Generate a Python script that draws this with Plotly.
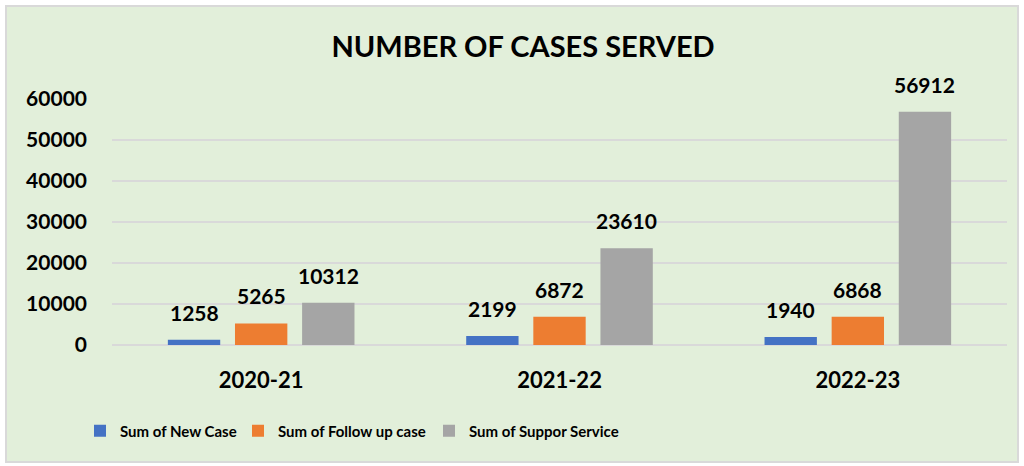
import plotly.graph_objects as go

years = ["2020-21", "2021-22", "2022-23"]
new_case = [1258, 2199, 1940]
follow_up = [5265, 6872, 6868]
support = [10312, 23610, 56912]
series_names = ["Sum of New Case", "Sum of Follow up case", "Sum of Suppor Service"]
colors = ["#4472C4", "#ED7D31", "#A5A5A5"]
y_ticks = [0, 10000, 20000, 30000, 40000, 50000, 60000]

FONT = "Lato, 'Open Sans', sans-serif"

L, R, T, B = 112, 17, 99, 121
W, H = 1024, 466
ph = H - T - B
pw = W - L - R
slot_px = pw / 3 * (1 - 0.325) / 3

legend_left_x = [80, 238, 429]
legend_ids = ["legend", "legend2", "legend3"]

fig = go.Figure()
all_vals = [new_case, follow_up, support]
for i, (name, vals, col) in enumerate(zip(series_names, all_vals, colors)):
    fig.add_trace(go.Bar(
        x=years, y=vals, name=name, marker=dict(color=col, line=dict(width=0)),
        legend=legend_ids[i], hoverinfo="skip",
    ))
    for yr, v in zip(years, vals):
        fig.add_annotation(x=yr, y=v, text=str(v), showarrow=False,
                           xref="x", yref="y", yanchor="bottom",
                           xshift=(i - 1) * slot_px, yshift=13,
                           font=dict(size=21, color="black", family=FONT, weight="bold"))

fig.add_shape(type="rect", xref="paper", yref="paper", layer="below",
              x0=(6 - L) / pw, x1=(1018 - L) / pw,
              y0=(H - B - 462) / ph, y1=(H - B - 6) / ph,
              fillcolor="#E2EFDA", line=dict(color="#D9D9D9", width=2))

leg_font = dict(size=15, color="black", family=FONT, weight="bold")
leg_common = dict(orientation="h", xanchor="left", yanchor="middle",
                  y=(H - B - 431) / ph, font=leg_font,
                  bgcolor="rgba(0,0,0,0)", itemwidth=30)

fig.update_layout(
    width=W, height=H,
    margin=dict(l=L, r=R, t=T, b=B),
    paper_bgcolor="white", plot_bgcolor="rgba(0,0,0,0)",
    barmode="group", bargap=0.325, bargroupgap=0.22,
    title=dict(text="NUMBER OF CASES SERVED", x=523 / W, xanchor="center",
               y=1 - 47 / H, yanchor="middle",
               font=dict(size=29, color="black", family=FONT, weight="bold")),
    xaxis=dict(tickfont=dict(size=22, color="black", family=FONT, weight="bold"),
               showgrid=False, ticks="", ticklabelstandoff=20, showline=False),
    yaxis=dict(range=[0, 60000], tickvals=y_ticks, ticktext=[str(v) for v in y_ticks],
               tickfont=dict(size=21, color="black", family=FONT, weight="bold"),
               gridcolor="#D9D9D9", gridwidth=2, zeroline=True, zerolinecolor="#D9D9D9",
               zerolinewidth=2, ticklabelstandoff=24, showline=False),
    legend=dict(x=(legend_left_x[0] - L) / pw, **leg_common),
    legend2=dict(x=(legend_left_x[1] - L) / pw, **leg_common),
    legend3=dict(x=(legend_left_x[2] - L) / pw, **leg_common),
    showlegend=True,
)

fig.write_html("out.html", config={"displayModeBar": False},
               post_script="document.body.style.margin='0';")
